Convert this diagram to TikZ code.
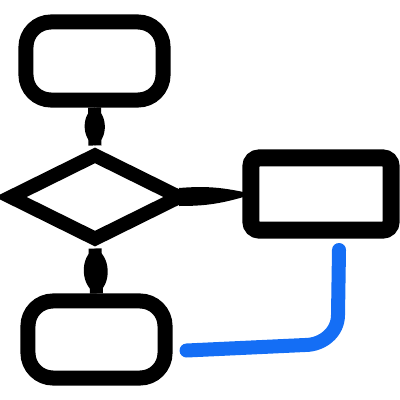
\documentclass[tikz,border=0pt]{standalone}
\usepackage{tikz}
\usetikzlibrary{shapes.geometric,calc}

\definecolor{flowblue}{RGB}{20,110,245}

\tikzset{
  rbox/.style={draw, line width=0.15cm, rounded corners=0.25cm, inner sep=0pt},
  sqbox/.style={draw, line width=0.17cm, rounded corners=0.08cm, inner sep=0pt},
  decide/.style={draw, diamond, line width=0.14cm, inner sep=0pt, aspect=2},
  stem/.style={line width=0.13cm},
  flow/.style={draw=flowblue, line width=0.14cm, line cap=round, line join=round}
}

\begin{document}
\begin{tikzpicture}[x=0.01cm,y=-0.01cm]
    \useasboundingbox (0,0) rectangle (400,400);

    \node[rbox, minimum width=1.37cm, minimum height=0.78cm] (start) at (94.5,61){};
    \node[decide, minimum width=1.74cm, minimum height=0.89cm] (dec) at (95,197){};
    \node[sqbox, minimum width=1.4cm, minimum height=0.72cm] (act) at (321,194){};
    \node[rbox, minimum width=1.37cm, minimum height=0.77cm] (stop) at (96.5,339.5){};
    \coordinate (loose) at (339,250);

    % stems
    \draw[stem] (start.south) -- (dec.north);
    \fill (start.south) to[bend left=65] (dec.north) to[bend left=65] (start.south);
    \draw[stem] (dec.south) -- (stop.north);
    \fill (dec.south) to[bend left=65] (stop.north) to[bend left=65] (dec.south);
    \fill ($(dec.east)+(-10,-9)$) to[bend left=8] ($(act.west)+(1,-2)$)
          -- ($(act.west)+(1,3)$) to[bend left=8] ($(dec.east)+(-10,9)$) -- cycle;

    % loose end
    \draw[flow] (loose) -- (338,315) to[out=-90,in=0] (305,345) -- ($(stop.east)+(14,11)$);
  \end{tikzpicture}
\end{document}
